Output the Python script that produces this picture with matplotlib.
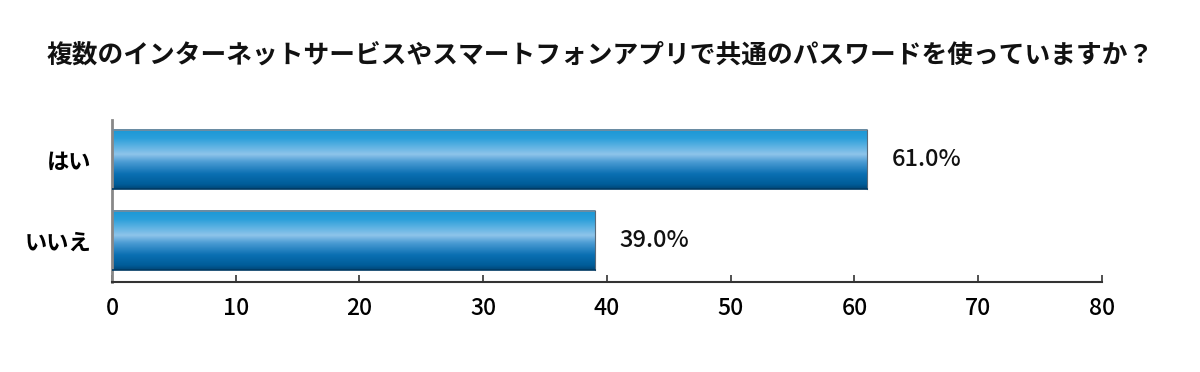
import numpy as np
import matplotlib
matplotlib.use("Agg")
import matplotlib.pyplot as plt
from matplotlib.colors import LinearSegmentedColormap

plt.rcParams['font.family'] = ['Noto Sans CJK JP', 'DejaVu Sans']

title = "複数のインターネットサービスやスマートフォンアプリで共通のパスワードを使っていますか？"
categories = ["はい", "いいえ"]
values = [61.0, 39.0]
xticks = [0, 10, 20, 30, 40, 50, 60, 70, 80]

fig = plt.figure(figsize=(12, 3.72), dpi=100)
ax = fig.add_axes([0.0933, 0.2419, 0.825, 0.4355])

ypos = [1, 0]
bar_h = 0.73
bars = ax.barh(ypos, values, height=bar_h, color="none", edgecolor="none")

# vertical gradient for the bars (top -> bottom)
grad = LinearSegmentedColormap.from_list("barg", [
    (0.0, "#1b97d5"),
    (0.15, "#2a9fda"),
    (0.42, "#8ec4ea"),
    (0.55, "#4a9bd3"),
    (0.75, "#0a6fb2"),
    (0.92, "#005d99"),
    (1.0, "#004677"),
])
g = np.linspace(0, 1, 256).reshape(-1, 1)
for b in bars:
    x0, y0 = b.get_x(), b.get_y()
    w, h = b.get_width(), b.get_height()
    ax.imshow(g, cmap=grad, aspect="auto", extent=[x0, x0 + w, y0, y0 + h],
              origin="upper", zorder=2)
    ax.plot([x0, x0 + w], [y0 + h, y0 + h], color="#7a8a99", lw=1.2, zorder=3)
    ax.plot([x0 + w, x0 + w], [y0, y0 + h], color="#5a6a78", lw=0.8, zorder=3)
    ax.plot([x0, x0 + w], [y0, y0], color="#003a63", lw=1.2, zorder=3)

for y, v in zip(ypos, values):
    ax.text(v + 2.0, y, f"{v:.1f}%", va="center", ha="left", fontsize=17,
            fontweight="medium", color="#111111")

ax.set_xlim(0, 80)
ax.set_ylim(-0.512, 1.488)
ax.set_xticks(xticks)
ax.set_xticklabels([str(t) for t in xticks], fontsize=16.5, fontweight="medium")
ax.set_yticks(ypos)
ax.set_yticklabels(categories, fontsize=16, fontweight="bold")
ax.tick_params(axis="x", direction="in", length=5, width=1.2, color="#333333", pad=11)
ax.tick_params(axis="y", length=0, pad=15)

for s in ["top", "right"]:
    ax.spines[s].set_visible(False)
ax.spines["left"].set_color("#888888")
ax.spines["left"].set_linewidth(2)
ax.spines["bottom"].set_color("#333333")
ax.spines["bottom"].set_linewidth(1.5)

fig.text(0.5, 0.852, title, ha="center", va="center", fontsize=18.5,
         fontweight="bold", color="#111111")

fig.savefig("out.png", dpi=100)
